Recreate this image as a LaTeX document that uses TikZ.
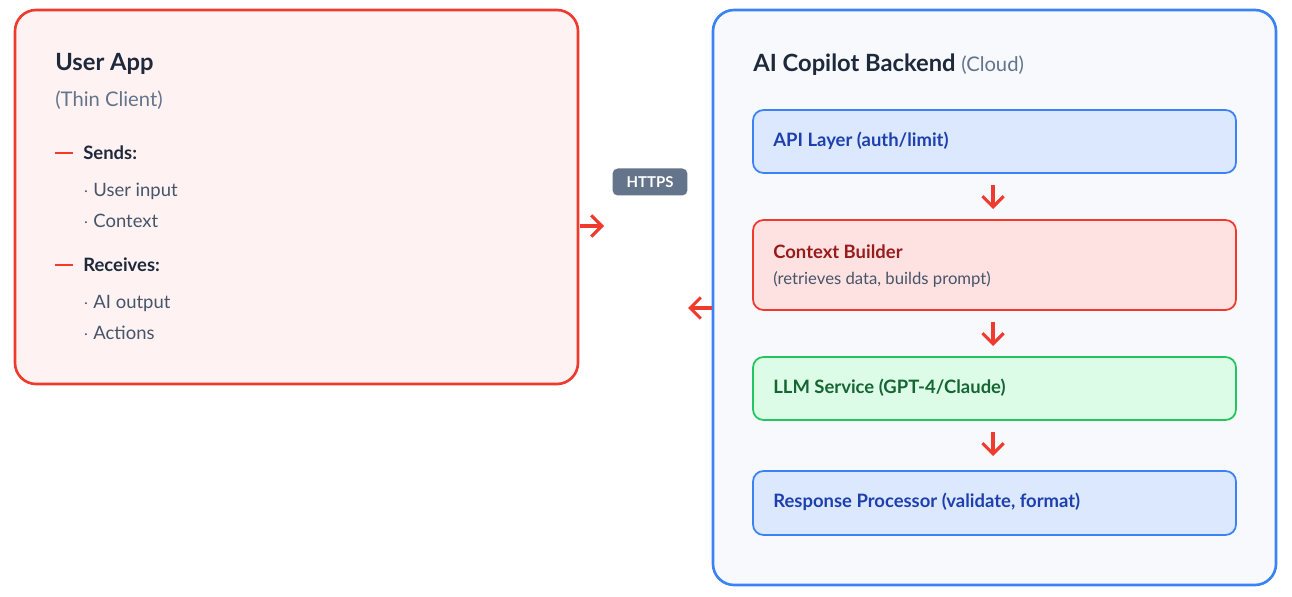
\documentclass[tikz,border=0pt]{standalone}
\usepackage{fontspec}
\setmainfont{Lato}
\usetikzlibrary{arrows.meta}
\definecolor{appred}{HTML}{F03A2E}
\definecolor{appfill}{HTML}{FEF3F2}
\definecolor{cloudblue}{HTML}{3B82F6}
\definecolor{cloudfill}{HTML}{F7F9FD}
\definecolor{layerblue}{HTML}{DCE8FD}
\definecolor{layertext}{HTML}{1E40AF}
\definecolor{ctxfill}{HTML}{FEE2E2}
\definecolor{ctxtext}{HTML}{991B1B}
\definecolor{llmfill}{HTML}{DCFCE7}
\definecolor{llmline}{HTML}{22C55E}
\definecolor{llmtext}{HTML}{166534}
\definecolor{dark}{HTML}{1E293B}
\definecolor{muted}{HTML}{64748B}
\definecolor{body}{HTML}{475569}
\tikzstyle{line} = [draw=appred, line width=1.8pt, -{Straight Barb[length=6pt,width=12pt]}]
\tikzstyle{layer} = [draw, line width=1pt, rounded corners=6pt]
\tikzstyle{lbl} = [anchor=west, inner sep=0pt, font=\bfseries\fontsize{10.5}{13}\selectfont]
\tikzstyle{item} = [anchor=west, inner sep=0pt, text=body, font=\fontsize{10.5}{13}\selectfont]
\begin{document}
\begin{tikzpicture}[x=0.02cm,y=-0.02cm]
		\useasboundingbox (0,0) rectangle (1292,597);
		%boxes
		\draw[layer, draw=appred, fill=appfill, line width=1.5pt, rounded corners=12pt] (15,10) rectangle (578,384);
		\draw[layer, draw=cloudblue, fill=cloudfill, line width=1.5pt, rounded corners=12pt] (713,10) rectangle (1276,585);
		\node[coordinate] (appE) at (580,226) {};
		\node[coordinate] (appT) at (604,226) {};
		\node[coordinate] (cloudW) at (712,308) {};
		\node[coordinate] (cloudT) at (688,308) {};
		%user app
		\node[anchor=west, inner sep=0pt, text=dark, font=\bfseries\fontsize{13.5}{16}\selectfont] (app) at (55,64) {User App};
		\node[anchor=west, inner sep=0pt, text=muted, font=\fontsize{11.5}{14}\selectfont] (thin) at (55,100) {(Thin Client)};
		\draw[appred, line width=1.5pt] (55,153) -- (73,153);
		\node[lbl, text=dark] (sends) at (83,153) {Sends:};
		\node[item] (input) at (83,191) {$\cdot$ User input};
		\node[item] (ctx) at (83,221) {$\cdot$ Context};
		\draw[appred, line width=1.5pt] (55,265) -- (73,265);
		\node[lbl, text=dark] (recv) at (83,265) {Receives:};
		\node[item] (out) at (83,303) {$\cdot$ AI output};
		\node[item] (act) at (83,333) {$\cdot$ Actions};
		%https
		\node[fill=muted, rounded corners=3pt, text=white, minimum width=1.5cm, minimum height=0.54cm, font=\bfseries\fontsize{8.5}{10}\selectfont] (https) at (650,182) {HTTPS};
		%backend
		\node[anchor=west, inner sep=0pt, text=dark, font=\bfseries\fontsize{13.5}{16}\selectfont] (back) at (753,65) {AI Copilot Backend {\mdseries\color{muted}\fontsize{11.5}{14}\selectfont(Cloud)}};
		\draw[layer, draw=cloudblue, fill=layerblue] (753,110) rectangle (1236,173);
		\node[lbl, text=layertext] (api) at (773,141) {API Layer (auth/limit)};
		\draw[layer, draw=appred, fill=ctxfill] (753,220) rectangle (1236,310);
		\node[lbl, text=ctxtext] (cb) at (773,252) {Context Builder};
		\node[item, font=\fontsize{9.5}{12}\selectfont] (cbsub) at (773,279) {(retrieves data, builds prompt)};
		\draw[layer, draw=llmline, fill=llmfill] (753,357) rectangle (1236,420);
		\node[lbl, text=llmtext] (llm) at (773,388) {LLM Service (GPT-4/Claude)};
		\draw[layer, draw=cloudblue, fill=layerblue] (753,471) rectangle (1236,535);
		\node[lbl, text=layertext] (resp) at (773,502) {Response Processor (validate, format)};
		%arrows
		\draw[line] (993,185) -- (993,209);
		\draw[line] (993,322) -- (993,346);
		\draw[line] (993,432) -- (993,456);
		\draw[line] (appE) -- (appT);
		\draw[line] (cloudW) -- (cloudT);
\end{tikzpicture}
\end{document}
